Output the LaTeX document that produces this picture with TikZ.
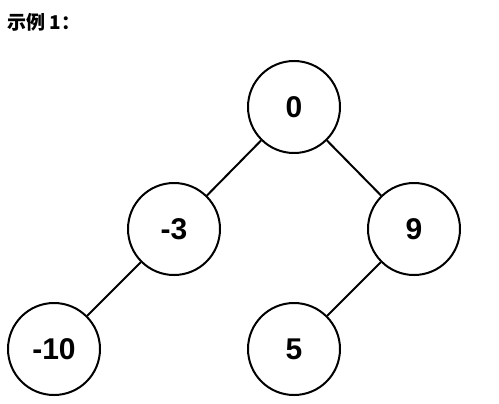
\documentclass[tikz,border=0pt]{standalone}
\usepackage{fontspec}
\setmainfont{Liberation Sans}
\newfontfamily\cjk{Noto Sans CJK SC}
\begin{document}
\begin{tikzpicture}[x=1bp,y=-1bp,
  treenode/.style={circle,draw=black,fill=white,line width=2bp,minimum size=92bp,inner sep=0pt,font=\fontsize{30bp}{32bp}\selectfont\bfseries},
  edge/.style={line width=2bp,draw=black}]
\useasboundingbox (0,0) rectangle (499,403);
\node[anchor=west,inner sep=0pt,font=\fontsize{19bp}{21bp}\selectfont] (title) at (7,22) {\cjk\bfseries 示例 1：};
\node[treenode] (n0) at (294,107) {0};
\node[treenode] (nm3) at (174,229) {-3};
\node[treenode] (n9) at (414,229) {9};
\node[treenode] (nm10) at (54,349) {-10};
\node[treenode] (n5) at (294,349) {5};
\draw[edge] (n0) -- (nm3);
\draw[edge] (n0) -- (n9);
\draw[edge] (nm3) -- (nm10);
\draw[edge] (n9) -- (n5);
\end{tikzpicture}
\end{document}
